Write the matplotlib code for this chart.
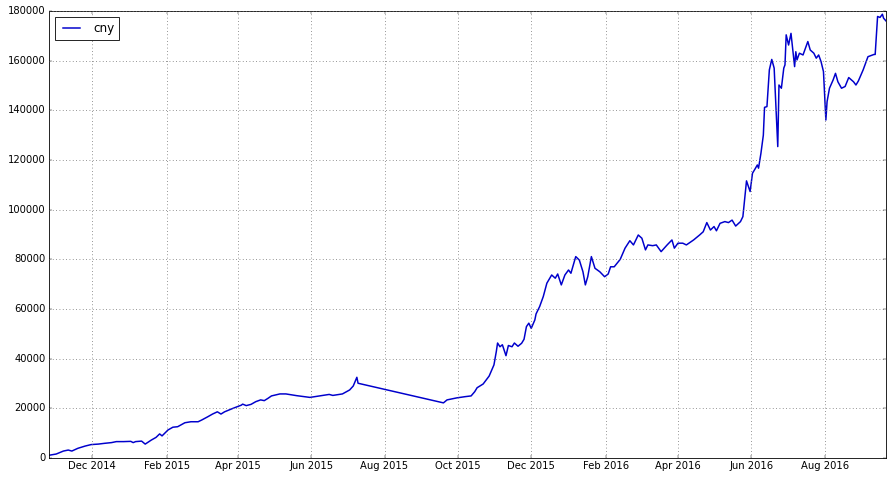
import numpy as np
import pandas as pd
import matplotlib
matplotlib.use('Agg')
import matplotlib.pyplot as plt
import matplotlib.dates as mdates

plt.style.use('classic')

# cny series (gap between Jul and Sep 2015 is in the data)
dates = ['2014-10-26', '2014-11-01', '2014-11-07', '2014-11-11', '2014-11-14', '2014-11-19',
         '2014-11-25', '2014-11-30', '2014-12-06', '2014-12-11', '2014-12-17', '2014-12-21',
         '2014-12-27', '2015-01-02', '2015-01-04', '2015-01-06', '2015-01-11', '2015-01-14',
         '2015-01-19', '2015-01-23', '2015-01-26', '2015-01-28', '2015-02-02', '2015-02-06',
         '2015-02-10', '2015-02-16', '2015-02-21', '2015-02-27', '2015-03-02', '2015-03-07',
         '2015-03-11', '2015-03-15', '2015-03-18', '2015-03-21', '2015-03-28', '2015-04-04',
         '2015-04-05', '2015-04-08', '2015-04-12', '2015-04-16', '2015-04-20', '2015-04-23',
         '2015-04-26', '2015-04-29', '2015-05-06', '2015-05-11', '2015-05-20', '2015-05-31',
         '2015-06-08', '2015-06-16', '2015-06-19', '2015-06-27', '2015-07-03', '2015-07-06',
         '2015-07-09', '2015-07-10',
         '2015-09-19', '2015-09-22', '2015-09-30', '2015-10-07', '2015-10-12', '2015-10-15',
         '2015-10-17', '2015-10-22', '2015-10-27', '2015-10-31', '2015-11-02', '2015-11-03',
         '2015-11-05', '2015-11-07', '2015-11-10', '2015-11-12', '2015-11-15', '2015-11-17',
         '2015-11-20', '2015-11-23', '2015-11-25', '2015-11-27', '2015-11-29', '2015-12-01',
         '2015-12-04', '2015-12-05', '2015-12-08', '2015-12-11', '2015-12-14', '2015-12-18',
         '2015-12-21', '2015-12-23', '2015-12-26', '2015-12-29', '2016-01-01', '2016-01-03',
         '2016-01-07', '2016-01-10', '2016-01-13', '2016-01-15', '2016-01-17', '2016-01-20',
         '2016-01-23', '2016-01-27', '2016-01-31', '2016-02-03', '2016-02-05', '2016-02-08',
         '2016-02-13', '2016-02-17', '2016-02-21', '2016-02-24', '2016-02-28', '2016-03-02',
         '2016-03-05', '2016-03-07', '2016-03-11', '2016-03-14', '2016-03-18', '2016-03-23',
         '2016-03-27', '2016-03-29', '2016-04-01', '2016-04-05', '2016-04-08', '2016-04-14',
         '2016-04-19', '2016-04-22', '2016-04-25', '2016-04-28', '2016-05-01', '2016-05-03',
         '2016-05-06', '2016-05-10', '2016-05-13', '2016-05-16', '2016-05-19', '2016-05-23',
         '2016-05-25', '2016-05-27', '2016-05-28', '2016-05-31', '2016-06-02', '2016-06-04',
         '2016-06-06', '2016-06-07', '2016-06-09', '2016-06-11', '2016-06-12', '2016-06-14',
         '2016-06-16', '2016-06-18', '2016-06-20', '2016-06-23', '2016-06-24', '2016-06-26',
         '2016-06-28', '2016-06-29', '2016-06-30', '2016-07-02', '2016-07-04', '2016-07-07',
         '2016-07-08', '2016-07-09', '2016-07-11', '2016-07-14', '2016-07-18', '2016-07-20',
         '2016-07-23', '2016-07-25', '2016-07-27', '2016-07-29', '2016-07-31', '2016-08-02',
         '2016-08-03', '2016-08-05', '2016-08-08', '2016-08-10', '2016-08-12', '2016-08-15',
         '2016-08-18', '2016-08-21', '2016-08-25', '2016-08-27', '2016-08-29', '2016-09-02',
         '2016-09-06', '2016-09-11', '2016-09-12', '2016-09-14', '2016-09-16', '2016-09-18',
         '2016-09-19', '2016-09-21']

cny = [1100, 1600, 2800, 3200, 2800, 3900,
       4800, 5400, 5600, 5900, 6200, 6600,
       6600, 6700, 6200, 6600, 6800, 5600,
       7200, 8300, 9700, 8900, 11300, 12400,
       12600, 14200, 14600, 14600, 15300, 16600,
       17700, 18600, 17700, 18600, 20000, 21300,
       21700, 21100, 21600, 22700, 23400, 23100,
       24000, 25000, 25800, 25800, 25100, 24400,
       25000, 25600, 25200, 25800, 27400, 29000,
       32500, 30100,
       22200, 23400, 24200, 24700, 25000, 26700,
       28300, 29800, 33000, 37500, 43000, 46300,
       44800, 45600, 41200, 45300, 44800, 46300,
       45000, 46200, 47800, 52900, 54300, 52200,
       55600, 58000, 61000, 65000, 70400, 73700,
       72400, 74100, 69700, 73700, 75700, 74400,
       81100, 79700, 75000, 69700, 73000, 81100,
       76400, 75000, 73000, 74100, 77000, 77000,
       80000, 84500, 87500, 85800, 89800, 88500,
       83800, 85800, 85500, 85800, 83100, 85800,
       87800, 84500, 86500, 86500, 85800, 87800,
       89800, 91100, 94800, 91800, 93200, 91500,
       94500, 95200, 94800, 95800, 93400, 95200,
       97200, 106600, 111600, 107300, 114700, 116300,
       118000, 116700, 122700, 130000, 141200, 141500,
       156300, 160500, 157000, 125400, 150200, 148900,
       157000, 158300, 170400, 166300, 171000, 157600,
       163600, 160300, 163000, 162300, 167700, 164300,
       163000, 161000, 162300, 159600, 155600, 136100,
       143500, 148900, 152200, 154900, 151500, 148900,
       149600, 153200, 151500, 150200, 151800, 156300,
       161600, 162500, 162500, 177800, 177400, 178700,
       177100, 176000]

x = pd.to_datetime(dates)

fig = plt.figure(figsize=(893 / 60, 479 / 60), dpi=60)
ax = fig.add_axes([49 / 893, 21 / 479, 837 / 893, 447 / 479])
ax.plot(x, cny, color='#0000cc', lw=1.8, label='cny')

ax.set_xlim(x[0], x[-1])
ax.set_ylim(0, 180000)
ax.yaxis.set_major_locator(plt.MultipleLocator(20000))
ax.xaxis.set_major_locator(mdates.MonthLocator(bymonth=[2, 4, 6, 8, 10, 12]))
ax.xaxis.set_major_formatter(mdates.DateFormatter('%b %Y'))
ax.grid(True, color='0.45', linewidth=1.0)
ax.legend(loc='upper left')

fig.savefig('out.png', dpi=60)
